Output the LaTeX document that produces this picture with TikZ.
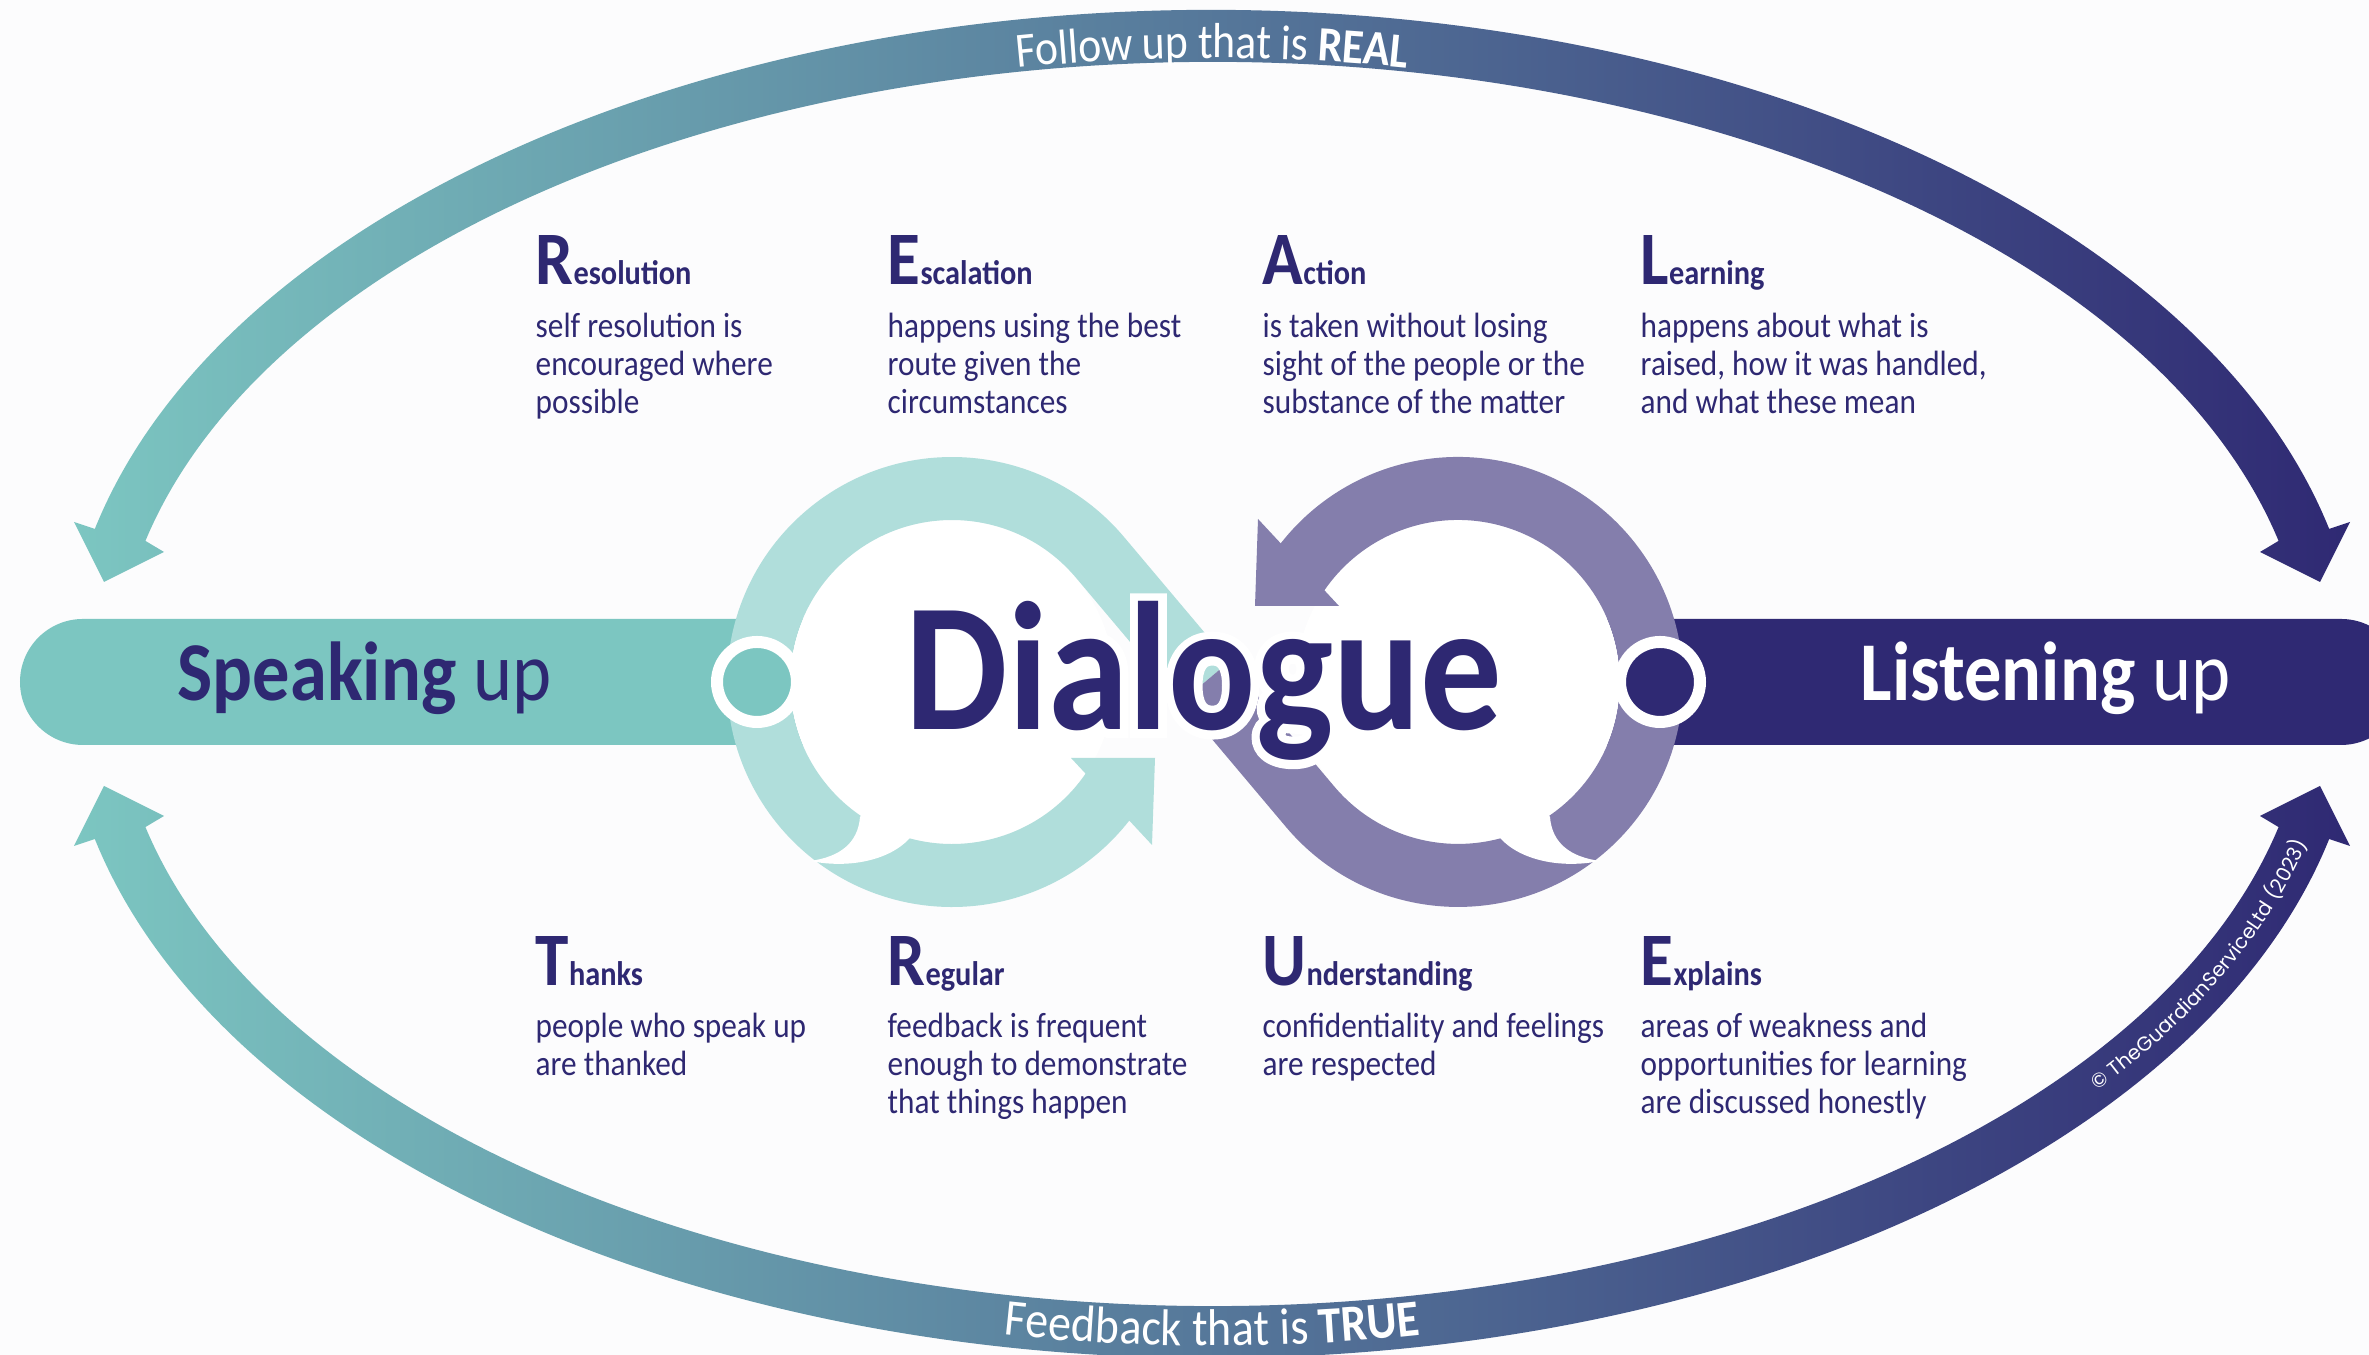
\documentclass[tikz,border=0pt]{standalone}
\usepackage{fontspec}
\setmainfont{Carlito}[FakeStretch=0.89]
\newfontfamily\cpyfont{Poppins}
\newfontfamily\dlghalo{Carlito}[FakeStretch=0.89, FakeBold=9]
\usetikzlibrary{calc}
\usetikzlibrary{decorations.text}
\usetikzlibrary{positioning}
\definecolor{paper}{RGB}{252,252,253}
\definecolor{spkteal}{RGB}{124,198,193}
\definecolor{lsnnavy}{RGB}{47,41,115}
\definecolor{inknavy}{RGB}{46,40,114}
\definecolor{ringteal}{RGB}{176,222,219}
\definecolor{ringpurple}{RGB}{132,126,172}
\newcommand{\txtbody}{\fontsize{10}{10.8}\selectfont}
\newcommand{\lettr}[2]{{\fontsize{21.5}{22}\selectfont\bfseries #1}{\fontsize{9.7}{10.8}\selectfont\bfseries #2}}
\newcommand{\blurb}[1]{\parbox[t]{6cm}{\raggedright\txtbody #1}}
\newcommand{\arclbl}{\fontsize{14}{15}\selectfont\color{white}}
\newcommand{\arclblb}{\fontsize{14.7}{15}\selectfont\color{white}}
\tikzstyle{headtxt} = [anchor=base west, inner sep=0pt, text=inknavy]
\tikzstyle{blurbtxt} = [anchor=base west, inner sep=0pt, text=inknavy]
\tikzstyle{barlabel} = [anchor=base west, inner sep=0pt, font=\fontsize{23.8}{25}\selectfont]
\tikzstyle{ringband} = [line width=0.63cm]
\tikzstyle{dot} = [circle, minimum size=0.8cm, inner sep=0pt, draw=white, line width=0.12cm]

\begin{document}
\begin{tikzpicture}
    \clip (0,0) rectangle (23.69,13.55);
    \fill[paper] (0,0) rectangle (23.69,13.55);

    % outer loops
    \coordinate (arcc) at (12.12,6.71);
    \shade[left color=spkteal, right color=lsnnavy]
        ([shift={(arcc)}]166.7:11.48 and 6.74) arc[start angle=166.7, end angle=13.3, x radius=11.48, y radius=6.74]
        -- (23.50,8.33) -- (23.20,7.73) -- (22.60,8.03)
        -- ([shift={(arcc)}]13.3:10.96 and 6.22) arc[start angle=13.3, end angle=166.7, x radius=10.96, y radius=6.22]
        -- (1.64,8.03) -- (1.04,7.73) -- (0.74,8.33) -- cycle;
    \shade[left color=spkteal, right color=lsnnavy]
        ([shift={(arcc)}]193.3:11.48 and 6.74) arc[start angle=193.3, end angle=346.7, x radius=11.48, y radius=6.74]
        -- (23.50,5.09) -- (23.20,5.69) -- (22.60,5.39)
        -- ([shift={(arcc)}]346.7:10.96 and 6.22) arc[start angle=346.7, end angle=193.3, x radius=10.96, y radius=6.22]
        -- (1.64,5.39) -- (1.04,5.69) -- (0.74,5.09) -- cycle;
    \path[decorate, decoration={text along path, text align=center, raise=-0.22cm,
        text={|\arclbl|Follow up that is |\arclbl\bfseries|REAL}}]
        ([shift={(arcc)}]112:11.22 and 6.48) arc[start angle=112, end angle=68, x radius=11.22, y radius=6.48];
    \path[decorate, decoration={text along path, text align=center, raise=-0.14cm,
        text={|\arclblb|Feedback that is |\arclblb\bfseries|TRUE}}]
        ([shift={(arcc)}]248:11.22 and 6.48) arc[start angle=248, end angle=292, x radius=11.22, y radius=6.48];
    \path[decorate, decoration={text along path, text align=left, raise=-0.07cm,
        text={|\cpyfont\fontsize{5.7}{6}\selectfont\color{white}|© TheGuardianServiceLtd (2023)}}]
        ([shift={(arcc)}]-38.2:11.22 and 6.48) arc[start angle=-38.2, end angle=-8, x radius=11.22, y radius=6.48];

    % bars
    \fill[spkteal] (8.6,6.10) -- (0.83,6.10) arc[start angle=270, end angle=90, radius=0.63] -- (8.6,7.36) -- cycle;
    \fill[lsnnavy] (15.5,6.10) -- (23.41,6.10) arc[start angle=-90, end angle=90, radius=0.63] -- (15.5,7.36) -- cycle;

    % infinity
    \coordinate (tc) at (9.52,6.73);
    \coordinate (pc) at (14.58,6.73);
    \coordinate (cross) at (12.05,6.73);
    \fill[white] (tc) circle (1.62);
    \fill[white] (pc) circle (1.62);
    \draw[ringband, ringteal] (cross) -- (11.00,7.976) arc[start angle=40.1, end angle=328, radius=1.935];
    \draw[ringband, ringpurple] (cross) -- (13.10,5.484) arc[start angle=220.1, end angle=508, radius=1.935];
    \fill[ringteal] (10.71,5.97) -- (11.55,5.97) -- (11.52,5.10) -- cycle;
    \fill[ringpurple] (13.39,7.49) -- (12.55,7.49) -- (12.58,8.36) -- cycle;
    \fill[white] (8.60,5.38) .. controls (8.58,5.12) and (8.40,4.98) .. (8.10,4.94)
        .. controls (8.50,4.86) and (8.90,4.95) .. (9.10,5.17) -- (tc) -- cycle;
    \fill[white] (15.50,5.38) .. controls (15.52,5.12) and (15.70,4.98) .. (16.00,4.94)
        .. controls (15.60,4.86) and (15.20,4.95) .. (15.00,5.17) -- (pc) -- cycle;
    \node[dot, fill=spkteal] (spkdot) at (7.57,6.73) {};
    \node[dot, fill=lsnnavy] (lsndot) at (16.60,6.73) {};

    \node[anchor=base west, inner sep=0pt, text=white, font=\dlghalo\fontsize{52}{53}\selectfont\bfseries] (dlgw) at (9.05,6.25) {Dialogue};
    \node[anchor=base west, inner sep=0pt, text=inknavy, font=\fontsize{52}{53}\selectfont\bfseries] (dlg) at (9.05,6.25) {Dialogue};
    \node[barlabel, text=inknavy] (spk) at (1.77,6.54) {\textbf{Speaking} up};
    \node[barlabel, text=white] (lsn) at (18.60,6.54) {\textbf{Listening} up};

    % top row
    \node[headtxt] (hRes) at (5.35,10.70) {\lettr{R}{esolution}};
    \node[blurbtxt] (bRes) at ([yshift=-0.53cm]hRes.base west) {\blurb{self resolution is\\encouraged where\\possible}};
    \node[headtxt] (hEsc) at (8.87,10.70) {\lettr{E}{scalation}};
    \node[blurbtxt] (bEsc) at ([yshift=-0.53cm]hEsc.base west) {\blurb{happens using the best\\route given the\\circumstances}};
    \node[headtxt] (hAct) at (12.62,10.70) {\lettr{A}{ction}};
    \node[blurbtxt] (bAct) at ([yshift=-0.53cm]hAct.base west) {\blurb{is taken without losing\\sight of the people or the\\substance of the matter}};
    \node[headtxt] (hLrn) at (16.40,10.70) {\lettr{L}{earning}};
    \node[blurbtxt] (bLrn) at ([yshift=-0.53cm]hLrn.base west) {\blurb{happens about what is\\raised, how it was handled,\\and what these mean}};

    % bottom row
    \node[headtxt] (hThx) at (5.35,3.69) {\lettr{T}{hanks}};
    \node[blurbtxt] (bThx) at ([yshift=-0.52cm]hThx.base west) {\blurb{people who speak up\\are thanked}};
    \node[headtxt] (hReg) at (8.87,3.69) {\lettr{R}{egular}};
    \node[blurbtxt] (bReg) at ([yshift=-0.52cm]hReg.base west) {\blurb{feedback is frequent\\enough to demonstrate\\that things happen}};
    \node[headtxt] (hUnd) at (12.62,3.69) {\lettr{U}{nderstanding}};
    \node[blurbtxt] (bUnd) at ([yshift=-0.52cm]hUnd.base west) {\blurb{confidentiality and feelings\\are respected}};
    \node[headtxt] (hExp) at (16.40,3.69) {\lettr{E}{xplains}};
    \node[blurbtxt] (bExp) at ([yshift=-0.52cm]hExp.base west) {\blurb{areas of weakness and\\opportunities for learning\\are discussed honestly}};
\end{tikzpicture}
\end{document}
